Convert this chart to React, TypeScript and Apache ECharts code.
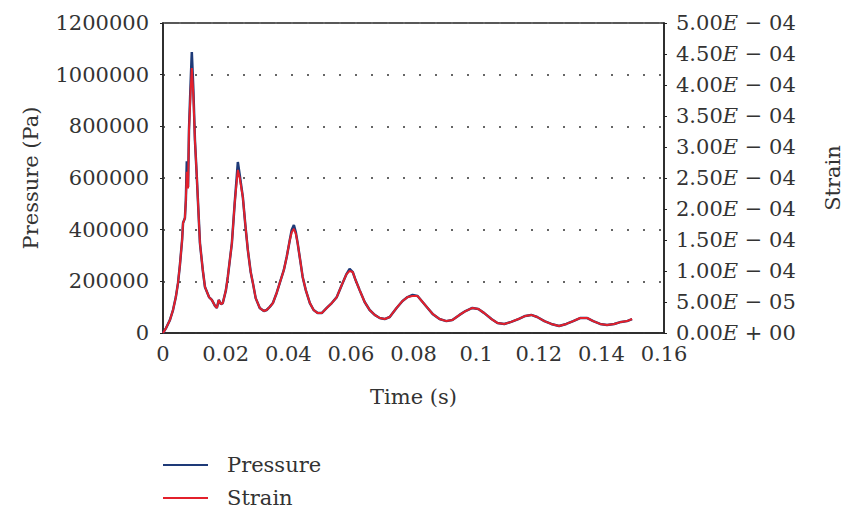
import React, { useEffect, useRef } from "react";
import * as echarts from "echarts";

const timeS = [
  0, 0.00096, 0.0022, 0.0032, 0.0041, 0.0048, 0.0054, 0.0061, 0.0064, 0.007,
  0.0073, 0.0076, 0.008, 0.0083, 0.0088, 0.0092, 0.0097, 0.0102, 0.0108, 0.0118,
  0.0127, 0.0134, 0.0147, 0.0156, 0.0166, 0.0172, 0.0178, 0.0185, 0.0191, 0.0201,
  0.0207, 0.022, 0.0229, 0.0236, 0.0239, 0.0245, 0.0255, 0.0263, 0.0271, 0.028,
  0.0287, 0.0296, 0.0309, 0.0322, 0.0331, 0.0341, 0.0351, 0.0363, 0.0373, 0.0386,
  0.0395, 0.0405, 0.0411, 0.0418, 0.0424, 0.043, 0.0438, 0.0446, 0.0456, 0.0469,
  0.0481, 0.0494, 0.0507, 0.0523, 0.0539, 0.0555, 0.0571, 0.0586, 0.0596, 0.0606,
  0.0615, 0.0628, 0.0644, 0.066, 0.0676, 0.0692, 0.0708, 0.0724, 0.0746, 0.0765,
  0.0781, 0.0797, 0.0813, 0.0829, 0.0845, 0.0861, 0.0883, 0.0905, 0.0924, 0.0947,
  0.0966, 0.0988, 0.1007, 0.1026, 0.1049, 0.1068, 0.109, 0.1112, 0.1135, 0.1157,
  0.1176, 0.1195, 0.1218, 0.124, 0.1265, 0.1288, 0.131, 0.1332, 0.1355, 0.1374,
  0.1396, 0.1418, 0.1441, 0.1463, 0.1482, 0.1498,
];

const pressurePa = [
  0, 19000, 50000, 89000, 139000, 194000, 263000, 360000, 426000, 445000,
  515000, 665000, 565000, 786000, 960000, 1088000, 940000, 747000, 604000, 348000,
  244000, 178000, 139000, 128000, 105000, 97000, 128000, 112000, 116000, 166000,
  217000, 348000, 503000, 612000, 662000, 612000, 526000, 418000, 321000, 236000,
  194000, 135000, 97000, 85000, 89000, 101000, 116000, 155000, 194000, 244000,
  294000, 360000, 399000, 418000, 391000, 348000, 283000, 217000, 166000, 116000,
  89000, 77000, 77000, 97000, 116000, 139000, 186000, 228000, 248000, 236000,
  205000, 166000, 120000, 89000, 70000, 58000, 54000, 62000, 97000, 124000,
  139000, 147000, 143000, 120000, 97000, 74000, 54000, 46000, 50000, 70000,
  85000, 97000, 93000, 77000, 54000, 39000, 35000, 43000, 54000, 66000,
  70000, 62000, 46000, 35000, 27000, 35000, 46000, 58000, 58000, 46000,
  35000, 31000, 35000, 43000, 46000, 54000,
];

const strain = [
  0, 7.9e-6, 2.08e-5, 3.71e-5, 5.79e-5, 8.08e-5, 1.096e-4, 1.5e-4, 1.775e-4, 1.854e-4,
  2.146e-4, 2.6e-4, 2.33e-4, 3.275e-4, 3.875e-4, 4.275e-4, 3.833e-4, 3.11e-4, 2.517e-4, 1.45e-4,
  1.017e-4, 7.42e-5, 5.79e-5, 5.33e-5, 4.38e-5, 4.04e-5, 5.33e-5, 4.67e-5, 4.83e-5, 6.92e-5,
  9.04e-5, 1.45e-4, 2.096e-4, 2.48e-4, 2.63e-4, 2.5e-4, 2.19e-4, 1.742e-4, 1.338e-4, 9.83e-5,
  8.08e-5, 5.63e-5, 4.04e-5, 3.54e-5, 3.71e-5, 4.21e-5, 4.83e-5, 6.46e-5, 8.08e-5, 1.017e-4,
  1.225e-4, 1.5e-4, 1.625e-4, 1.68e-4, 1.604e-4, 1.45e-4, 1.179e-4, 9.04e-5, 6.92e-5, 4.83e-5,
  3.71e-5, 3.21e-5, 3.21e-5, 4.04e-5, 4.83e-5, 5.79e-5, 7.75e-5, 9.5e-5, 1.0e-4, 9.83e-5,
  8.54e-5, 6.92e-5, 5.0e-5, 3.71e-5, 2.92e-5, 2.42e-5, 2.25e-5, 2.58e-5, 4.04e-5, 5.17e-5,
  5.79e-5, 5.96e-5, 5.96e-5, 5.0e-5, 4.04e-5, 3.08e-5, 2.25e-5, 1.92e-5, 2.08e-5, 2.92e-5,
  3.54e-5, 4.04e-5, 3.88e-5, 3.21e-5, 2.25e-5, 1.63e-5, 1.46e-5, 1.79e-5, 2.25e-5, 2.75e-5,
  2.92e-5, 2.58e-5, 1.92e-5, 1.46e-5, 1.13e-5, 1.46e-5, 1.92e-5, 2.42e-5, 2.42e-5, 1.92e-5,
  1.46e-5, 1.29e-5, 1.46e-5, 1.79e-5, 1.92e-5, 2.25e-5,
];

const seriesNames = ["Pressure", "Strain"];

const FONT = "DejaVu Serif";
const TEXT_COLOR = "#333";
const FS = 21;

function formatStrain(v: number): string {
  const s = v.toExponential(2); // e.g. "5.00e-4"
  const [mant, expPart] = s.split("e");
  const expNum = parseInt(expPart, 10);
  const sign = expNum < 0 ? "\u2212" : "+";
  const expStr = String(Math.abs(expNum)).padStart(2, "0");
  return `{a|${mant}}{e|E}{a| ${sign} ${expStr}}`;
}

export default function App() {
  const ref = useRef<HTMLDivElement>(null);
  useEffect(() => {
    if (!ref.current) return;
    const chart = echarts.init(ref.current, null, { renderer: "svg" });
    const pData = timeS.map((t, i) => [t, pressurePa[i]]);
    const sData = timeS.map((t, i) => [t, strain[i]]);
    chart.setOption({
      animation: false,
      backgroundColor: "#fff",
      textStyle: { fontFamily: FONT },
      grid: {
        left: 163,
        right: 186,
        top: 23,
        bottom: 180,
        show: true,
        borderColor: "#222",
        borderWidth: 1.5,
        backgroundColor: "transparent",
      },
      legend: {
        data: seriesNames,
        orient: "vertical",
        left: 163,
        top: 453,
        padding: 0,
        itemWidth: 45,
        itemHeight: 2,
        itemGap: 9,
        icon: "rect",
        textStyle: {
          fontFamily: FONT,
          fontSize: FS,
          color: TEXT_COLOR,
          padding: [0, 0, 0, 14],
          lineHeight: 24,
        },
      },
      xAxis: {
        type: "value",
        min: 0,
        max: 0.16,
        interval: 0.02,
        name: "Time (s)",
        nameLocation: "middle",
        nameGap: 53,
        nameTextStyle: { fontFamily: FONT, fontSize: FS, color: TEXT_COLOR },
        axisLine: { show: true, lineStyle: { color: "#222", width: 1.5 } },
        axisTick: { show: false },
        splitLine: { show: false },
        axisLabel: {
          fontFamily: FONT,
          fontSize: FS,
          color: TEXT_COLOR,
          margin: 10,
          formatter: (v: number) => String(parseFloat(v.toFixed(2))),
        },
      },
      yAxis: [
        {
          type: "value",
          min: 0,
          max: 1200000,
          interval: 200000,
          name: "Pressure (Pa)",
          nameLocation: "middle",
          nameRotate: 90,
          nameGap: 122,
          nameTextStyle: { fontFamily: FONT, fontSize: FS, color: TEXT_COLOR },
          axisLine: { show: true, lineStyle: { color: "#222", width: 1.5 } },
          axisTick: { show: true, length: 3, lineStyle: { color: "#222" } },
          axisLabel: {
            fontFamily: FONT,
            fontSize: FS,
            color: TEXT_COLOR,
            margin: 14,
            formatter: (v: number) => String(v),
          },
          splitLine: {
            show: true,
            lineStyle: { color: "#666", width: 2, type: [2, 14] },
          },
        },
        {
          type: "value",
          min: 0,
          max: 0.0005,
          interval: 0.00005,
          position: "right",
          name: "Strain",
          nameLocation: "middle",
          nameRotate: 90,
          nameGap: 158,
          nameTextStyle: { fontFamily: FONT, fontSize: FS, color: TEXT_COLOR },
          axisLine: { show: true, lineStyle: { color: "#222", width: 1.5 } },
          axisTick: { show: true, length: 3, lineStyle: { color: "#222" } },
          splitLine: { show: false },
          axisLabel: {
            margin: 12,
            formatter: formatStrain,
            rich: {
              a: { fontFamily: FONT, fontSize: FS, color: TEXT_COLOR },
              e: { fontFamily: FONT, fontSize: FS, color: TEXT_COLOR, fontStyle: "italic" },
            },
          },
        },
      ],
      series: [
        {
          name: "Pressure",
          type: "line",
          yAxisIndex: 0,
          data: pData,
          showSymbol: false,
          z: 2,
          color: "#1e3a78",
          lineStyle: { color: "#1e3a78", width: 2.5 },
        },
        {
          name: "Strain",
          type: "line",
          yAxisIndex: 1,
          data: sData,
          showSymbol: false,
          z: 3,
          color: "#e3202b",
          lineStyle: { color: "#e3202b", width: 2 },
        },
      ],
    });
    return () => chart.dispose();
  }, []);
  return (
    <div
      ref={ref}
      style={{ position: "fixed", left: 0, top: 0, width: 851, height: 513, background: "#fff" }}
    />
  );
}
